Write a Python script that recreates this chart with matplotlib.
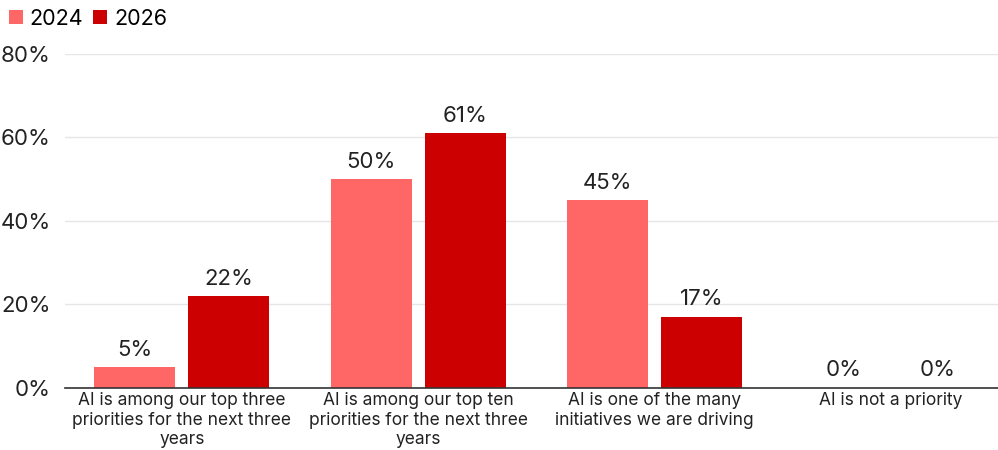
import matplotlib.pyplot as plt
import numpy as np

plt.rcParams['font.family'] = ['Inter', 'DejaVu Sans']

categories = [
    'AI is among our top three\npriorities for the next three\nyears',
    'AI is among our top ten\npriorities for the next three\nyears',
    'AI is one of the many\ninitiatives we are driving',
    'AI is not a priority',
]
years = ['2024', '2026']
vals_2024 = [5, 50, 45, 0]
vals_2026 = [22, 61, 17, 0]
colors = ['#FF6666', '#CC0000']

fig = plt.figure(figsize=(9.98, 4.5), dpi=100)
ax = fig.add_axes([0.065, 0.138, 0.935, 0.742])

x = np.arange(len(categories))
w = 0.343
off = 0.199
for vals, yr, col, sgn in zip([vals_2024, vals_2026], years, colors, [-1, 1]):
    bars = ax.bar(x + sgn*off, vals, w, color=col, label=yr, zorder=3)
    for b, v in zip(bars, vals):
        ax.text(b.get_x() + b.get_width()/2, v + 1.8, '{}%'.format(v),
                ha='center', va='bottom', fontsize=16, color='#222222')

ax.set_xlim(-0.495, 3.453)
ax.set_ylim(0, 80)
ax.set_yticks([0, 20, 40, 60, 80])
ax.set_yticklabels(['{}%'.format(t) for t in [0, 20, 40, 60, 80]], fontsize=16, color='#222222')
ax.set_xticks(x)
ax.set_xticklabels(categories, fontsize=12.5, color='#222222', linespacing=1.2)
ax.tick_params(axis='both', length=0)
ax.tick_params(axis='y', pad=10)
ax.tick_params(axis='x', pad=3)
ax.grid(axis='y', color='#e6e6e6', lw=1, zorder=0)
for s in ['top', 'right', 'left']:
    ax.spines[s].set_visible(False)
ax.spines['bottom'].set_color('#333333')
ax.spines['bottom'].set_linewidth(1.2)
ax.spines['bottom'].set_zorder(4)

fig.legend(loc='upper left', bbox_to_anchor=(0.0, 1.0), ncol=2, frameon=False,
           fontsize=15.5, handlelength=0.65, handleheight=0.65, handletextpad=0.3,
           columnspacing=0.5, borderaxespad=0.2, borderpad=0.2)

plt.savefig('out.png', dpi=100)
